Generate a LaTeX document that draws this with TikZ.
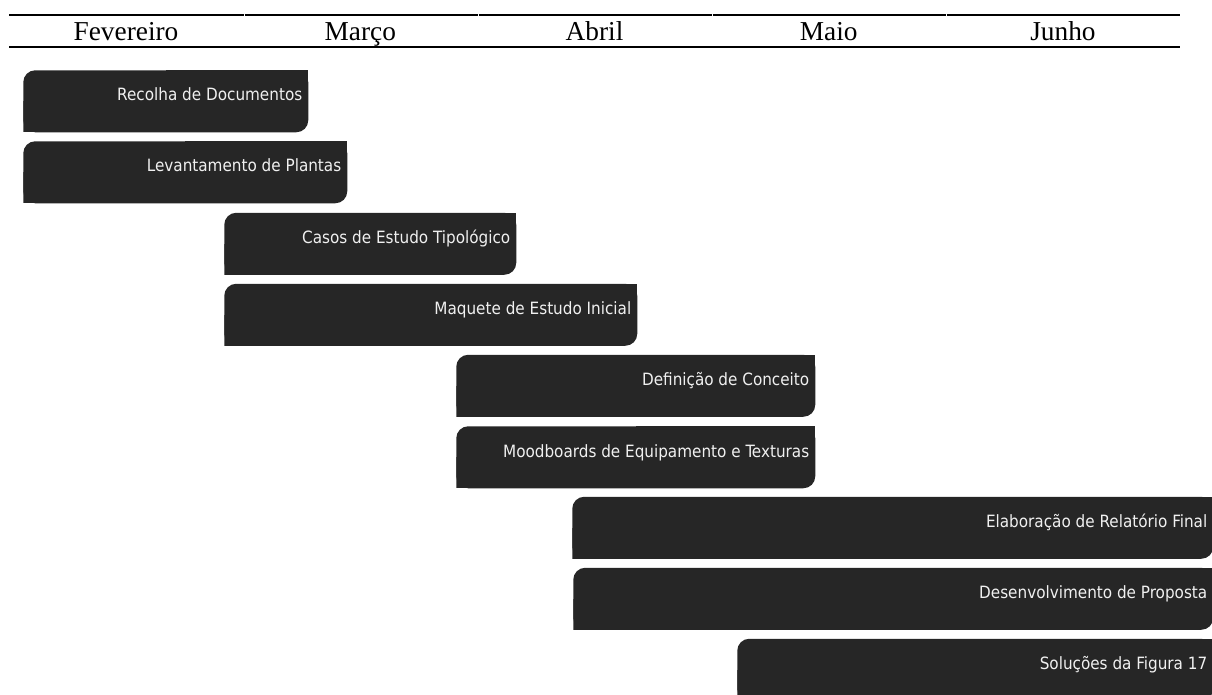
\documentclass[tikz,border=0pt]{standalone}
\usepackage{fontspec}
\newfontfamily\taskfont{DejaVu Sans Condensed}
\newfontfamily\monthfont{Liberation Serif}
\definecolor{barfill}{RGB}{38,38,38}
\tikzset{
  task/.style={anchor=north west, inner sep=0pt, minimum height=62*.75pt,
    path picture={
      \fill[barfill,rounded corners=9pt] (path picture bounding box.south west) rectangle (path picture bounding box.north east);
      \fill[barfill] (path picture bounding box.south west) rectangle (path picture bounding box.center);
      \fill[barfill] (path picture bounding box.center) rectangle (path picture bounding box.north east);
    },
    label={[tasklabel]north east:#1}},
  tasklabel/.style={anchor=base east, xshift=-4.5pt, yshift=-23.25pt, inner sep=0pt,
    text=white!94!black, font=\taskfont\fontsize{12.7}{14}\selectfont},
  month/.style={anchor=base, inner sep=0pt, font=\monthfont\fontsize{20.5}{23}\selectfont}
}

\begin{document}
\begin{tikzpicture}[x=.75pt,y=-.75pt]
    \useasboundingbox (0,0) rectangle (1212,695);
    \clip (0,0) rectangle (1212,695);

    % month header
    \draw[line width=1.5pt] (9,15) -- (243.5,15);
    \draw[line width=1.5pt] (244.5,15) -- (477.5,15);
    \draw[line width=1.5pt] (478.5,15) -- (711.5,15);
    \draw[line width=1.5pt] (712.5,15) -- (945.5,15);
    \draw[line width=1.5pt] (946.5,15) -- (1180,15);
    \draw[line width=2pt] (9,47) -- (1180,47);

    \node[month] (m1) at (126,40.7) {Fevereiro};
    \node[month] (m2) at (360.3,40.7) {Março};
    \node[month] (m3) at (594.5,40.7) {Abril};
    \node[month] (m4) at (828.7,40.7) {Maio};
    \node[month] (m5) at (1063,40.7) {Junho};

    % tasks
    \node[task=Recolha de Documentos, minimum width=285*.75pt] (t1) at (23,70) {};
    \node[task=Levantamento de Plantas, minimum width=324*.75pt] (t2) at (23,141) {};
    \node[task=Casos de Estudo Tipológico, minimum width=292*.75pt] (t3) at (224,212.5) {};
    \node[task=Maquete de Estudo Inicial, minimum width=413*.75pt] (t4) at (224,283.5) {};
    \node[task=Definição de Conceito, minimum width=359*.75pt] (t5) at (456,354.5) {};
    \node[task=Moodboards de Equipamento e Texturas, minimum width=359*.75pt] (t6) at (456,426) {};
    \node[task=Elaboração de Relatório Final, minimum width=641*.75pt] (t7) at (572,496.5) {};
    \node[task=Desenvolvimento de Proposta, minimum width=640*.75pt] (t8) at (573,567.5) {};
    \node[task=Soluções da Figura 17, minimum width=476*.75pt] (t9) at (737,638.5) {};
\end{tikzpicture}
\end{document}
